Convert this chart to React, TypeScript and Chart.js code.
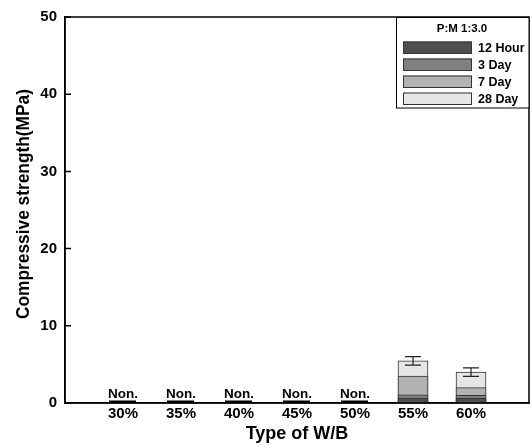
import React, { useEffect, useRef } from "react";
import { Chart, registerables } from "chart.js";

Chart.register(...registerables);

const categories = ["30%", "35%", "40%", "45%", "50%", "55%", "60%"];
const seriesNames = ["12 Hour", "3 Day", "7 Day", "28 Day"];
const hour12 = [null, null, null, null, null, 0.65, 0.6];
const day3 = [null, null, null, null, null, 1.05, 1.0];
const day7 = [null, null, null, null, null, 3.5, 2.0];
const day28 = [null, null, null, null, null, 5.45, 4.0];
const day28Err = [null, null, null, null, null, 0.55, 0.55];
const yTicks = [0, 10, 20, 30, 40, 50];
const noneLabel = "Non.";
const legendTitle = "P:M 1:3.0";
const xTitle = "Type of W/B";
const yTitle = "Compressive strength(MPa)";
const colors = ["#4f4f4f", "#808080", "#b2b2b2", "#e6e6e6"];

const FONT = "Arial, 'Liberation Sans', sans-serif";

export default function App() {
  const ref = useRef<HTMLCanvasElement>(null);

  useEffect(() => {
    document.body.style.margin = "0";
    const pad = (arr: (number | null)[]) => [null, ...arr, null];
    const allSeries = [hour12, day3, day7, day28];

    const decor = {
      id: "decor",
      afterDatasetsDraw(chart: any) {
        const ctx = chart.ctx;
        const ca = chart.chartArea;
        const ys = chart.scales.y;
        const xs = chart.scales.x;
        ctx.save();
        const meta = chart.getDatasetMeta(3);
        ctx.strokeStyle = "#222";
        ctx.lineWidth = 1.2;
        meta.data.forEach((el: any, i: number) => {
          const v = day28[i - 1];
          const e = day28Err[i - 1];
          if (v == null || e == null) return;
          const x = el.x;
          const yt = ys.getPixelForValue(v + e);
          const yb = ys.getPixelForValue(v - e);
          ctx.beginPath();
          ctx.moveTo(x, yt);
          ctx.lineTo(x, yb);
          ctx.moveTo(x - 8, yt);
          ctx.lineTo(x + 8, yt);
          ctx.moveTo(x - 8, yb);
          ctx.lineTo(x + 8, yb);
          ctx.stroke();
        });
        ctx.fillStyle = "#000";
        ctx.font = `bold 13.5px ${FONT}`;
        ctx.textAlign = "center";
        ctx.textBaseline = "alphabetic";
        categories.forEach((c, i) => {
          const empty = allSeries.every((s) => s[i] == null);
          if (!empty) return;
          const x = xs.getPixelForValue(i + 1);
          ctx.fillText(noneLabel, x, ca.bottom - 5);
          ctx.fillRect(x - 14, ca.bottom - 2.5, 27, 1.6);
        });
        ctx.restore();
      },
      afterDraw(chart: any) {
        const ctx = chart.ctx;
        const ca = chart.chartArea;
        const ys = chart.scales.y;
        ctx.save();
        ctx.strokeStyle = "#000";
        ctx.lineWidth = 1.5;
        ctx.strokeRect(ca.left, ca.top, ca.right - ca.left, ca.bottom - ca.top);
        ctx.beginPath();
        yTicks.forEach((t) => {
          const y = ys.getPixelForValue(t);
          ctx.moveTo(ca.left, y);
          ctx.lineTo(ca.left + 6, y);
        });
        ctx.stroke();
        const lx = ca.right - 133;
        const ly = ca.top;
        ctx.lineWidth = 1;
        ctx.fillStyle = "#fff";
        ctx.fillRect(lx, ly, 133, 91);
        ctx.strokeRect(lx + 0.5, ly + 0.5, 132.5, 90.5);
        ctx.fillStyle = "#000";
        ctx.font = `bold 11.5px ${FONT}`;
        ctx.textAlign = "center";
        ctx.textBaseline = "middle";
        ctx.fillText(legendTitle, lx + 66, ly + 12);
        seriesNames.forEach((n, i) => {
          const sy = ly + 24.5 + i * 17;
          ctx.fillStyle = colors[i];
          ctx.fillRect(lx + 7, sy, 69, 12.5);
          ctx.strokeStyle = "#333";
          ctx.strokeRect(lx + 7.5, sy + 0.5, 68, 11.5);
          ctx.fillStyle = "#000";
          ctx.font = `bold 12.5px ${FONT}`;
          ctx.textAlign = "left";
          ctx.fillText(n, lx + 82, sy + 7);
        });
        ctx.font = `bold 18px ${FONT}`;
        ctx.textAlign = "center";
        ctx.textBaseline = "alphabetic";
        ctx.fillText(xTitle, (ca.left + ca.right) / 2, 439, 124);
        ctx.save();
        ctx.translate(29, (ca.top + ca.bottom) / 2 - 6);
        ctx.rotate(-Math.PI / 2);
        ctx.font = `bold 19px ${FONT}`;
        ctx.fillText(yTitle, 0, 0, 230);
        ctx.restore();
        ctx.restore();
      },
    };

    const chart = new Chart(ref.current as HTMLCanvasElement, {
      type: "bar",
      data: {
        labels: ["", ...categories, ""],
        datasets: seriesNames.map((n, i) => ({
          label: n,
          data: pad(allSeries[i]) as any,
          backgroundColor: colors[i],
          borderColor: "#333",
          borderWidth: 1,
          grouped: false,
          barThickness: 30,
        })),
      },
      options: {
        responsive: false,
        animation: false,
        devicePixelRatio: 1,
        layout: { padding: { top: 15, right: 2, left: 0, bottom: 0 } },
        plugins: { legend: { display: false }, tooltip: { enabled: false } },
        scales: {
          x: {
            offset: false,
            grid: { display: false, drawTicks: false },
            border: { display: true, color: "#000", width: 1.5 },
            ticks: {
              color: "#000",
              font: { family: FONT, size: 15, weight: "bold" },
              padding: 2,
              autoSkip: false,
              maxRotation: 0,
            },
            afterFit: (s: any) => {
              s.height = 45;
            },
          },
          y: {
            min: 0,
            max: 50,
            grid: { display: false, drawTicks: false },
            border: { display: true, color: "#000", width: 1.5 },
            ticks: {
              stepSize: 10,
              color: "#000",
              font: { family: FONT, size: 15, weight: "bold" },
              padding: 8,
            },
            afterFit: (s: any) => {
              s.width = 65;
            },
          },
        },
      } as any,
      plugins: [decor],
    });
    return () => chart.destroy();
  }, []);

  return (
    <div style={{ position: "absolute", left: 0, top: 0 }}>
      <canvas ref={ref} width={531} height={448} />
    </div>
  );
}
